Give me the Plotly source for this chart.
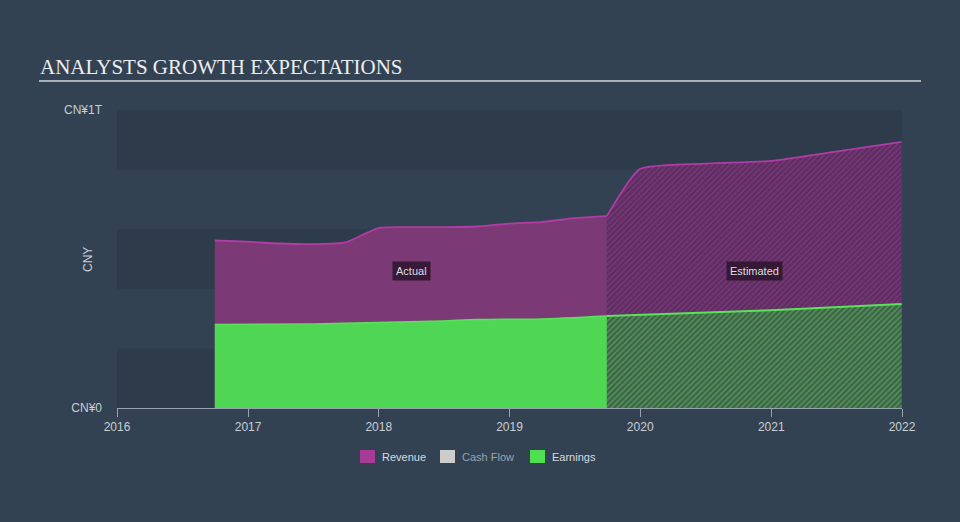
import plotly.graph_objects as go

# ---------------- data ----------------
rev_act_dates = ["2016-09-30", "2016-12-31", "2017-03-31", "2017-06-30", "2017-09-30",
                 "2017-12-31", "2018-03-31", "2018-06-30", "2018-09-30", "2018-12-31",
                 "2019-03-31", "2019-06-30", "2019-09-30"]
rev_act_vals = [0.562e12, 0.558e12, 0.552e12, 0.550e12, 0.556e12,
                0.604e12, 0.607e12, 0.607e12, 0.609e12, 0.619e12,
                0.624e12, 0.637e12, 0.644e12]

rev_est_dates = ["2019-09-30", "2019-12-31", "2020-06-30", "2020-12-31", "2021-06-30", "2021-12-31"]
rev_est_vals = [0.644e12, 0.802e12, 0.820e12, 0.829e12, 0.860e12, 0.893e12]

earn_act_dates = ["2016-09-30", "2017-06-30", "2017-12-31", "2018-06-30", "2018-09-30",
                  "2019-03-31", "2019-09-30"]
earn_act_vals = [0.280e12, 0.282e12, 0.287e12, 0.292e12, 0.297e12, 0.299e12, 0.309e12]

earn_est_dates = ["2019-09-30", "2020-12-31", "2021-12-31"]
earn_est_vals = [0.309e12, 0.328e12, 0.349e12]

x_tick_vals = ["2016-01-01", "2017-01-01", "2018-01-01", "2019-01-01",
               "2020-01-01", "2021-01-01", "2022-01-01"]
x_tick_text = ["2016", "2017", "2018", "2019", "2020", "2021", "2022"]
y_tick_vals = [0, 1e12]
y_tick_text = ["CN¥0", "CN¥1T"]

legend_names = ["Revenue", "Cash Flow", "Earnings"]
legend_colors = ["#a73c97", "#cccccc", "#4fe052"]
legend_text_colors = ["#d6dae0", "#9aa2ac", "#d6dae0"]

# ---------------- style ----------------
REV_LINE = "#b23ca5"
REV_FILL = "#7b3a76"
EARN_LINE = "#5be25a"
EARN_FILL = "#4fd655"
BG = "#334252"
BAND = "#2e3b4b"
FONT = "Liberation Sans"

fig = go.Figure()

fig.add_trace(go.Scatter(x=rev_act_dates, y=rev_act_vals, mode="lines",
                         line=dict(color=REV_LINE, width=1.8, shape="spline", smoothing=0.6),
                         fill="tozeroy", fillcolor=REV_FILL, showlegend=False, hoverinfo="skip"))
fig.add_trace(go.Scatter(x=rev_est_dates, y=rev_est_vals, mode="lines",
                         line=dict(color=REV_LINE, width=1.8, shape="spline", smoothing=0.5),
                         fill="tozeroy", fillcolor="rgba(0,0,0,0)",
                         fillpattern=dict(shape="/", bgcolor="#5a2e5e", fgcolor="#9a3d93",
                                          size=4, solidity=0.4),
                         showlegend=False, hoverinfo="skip"))
fig.add_trace(go.Scatter(x=earn_act_dates, y=earn_act_vals, mode="lines",
                         line=dict(color=EARN_LINE, width=1.5, shape="spline", smoothing=0.6),
                         fill="tozeroy", fillcolor=EARN_FILL, showlegend=False, hoverinfo="skip"))
fig.add_trace(go.Scatter(x=earn_est_dates, y=earn_est_vals, mode="lines",
                         line=dict(color=EARN_LINE, width=2),
                         fill="tozeroy", fillcolor="rgba(0,0,0,0)",
                         fillpattern=dict(shape="/", bgcolor="#42604c", fgcolor="#55cf57",
                                          size=4, solidity=0.4),
                         showlegend=False, hoverinfo="skip"))

# background bands
for i in range(5):
    if i % 2 == 0:
        fig.add_shape(type="rect", xref="paper", yref="y", x0=0, x1=1,
                      y0=i * 0.2e12, y1=(i + 1) * 0.2e12,
                      fillcolor=BAND, line_width=0, layer="below")

W, H = 960, 522
L, R, T, B = 117, 902, 110, 408


def px(x):
    return (x - L) / (R - L)


def py(y):
    return (B - y) / (B - T)


# title underline
fig.add_shape(type="line", xref="paper", yref="paper", x0=px(39), x1=px(921),
              y0=py(81), y1=py(81), line=dict(color="#a9b0b8", width=2))

annotations = [
    dict(text="ANALYSTS GROWTH EXPECTATIONS", xref="paper", yref="paper",
         x=px(38), y=py(67), xanchor="left", yanchor="middle", showarrow=False,
         font=dict(family="Liberation Serif", size=21, color="#eceef0")),
    dict(text="Actual", x="2018-04-01", y=0.46e12, showarrow=False,
         bgcolor="rgba(45,20,45,0.85)", borderpad=3,
         font=dict(family=FONT, size=11, color="#dddddd")),
    dict(text="Estimated", x="2020-11-15", y=0.46e12, showarrow=False,
         bgcolor="rgba(45,20,45,0.85)", borderpad=3,
         font=dict(family=FONT, size=11, color="#dddddd")),
    dict(text="CNY", xref="paper", yref="paper", x=px(88), y=py(260), textangle=-90,
         showarrow=False, xanchor="center", yanchor="middle",
         font=dict(family=FONT, size=12, color="#c9ced4")),
]

# manual legend
legend_x = [360, 440, 530]
for name, col, tcol, lx in zip(legend_names, legend_colors, legend_text_colors, legend_x):
    fig.add_shape(type="rect", xref="paper", yref="paper",
                  x0=px(lx), x1=px(lx + 15), y0=py(450), y1=py(463),
                  fillcolor=col, line_width=0)
    annotations.append(dict(text=name, xref="paper", yref="paper", x=px(lx + 20), y=py(457),
                            xanchor="left", yanchor="middle", showarrow=False,
                            font=dict(family=FONT, size=11, color=tcol)))

fig.update_layout(
    width=W, height=H,
    margin=dict(l=L, r=W - R, t=T, b=H - B),
    paper_bgcolor=BG, plot_bgcolor=BG,
    font=dict(family=FONT, color="#c9ced4", size=12),
    showlegend=False,
    annotations=annotations,
    xaxis=dict(type="date", range=["2016-01-01", "2022-01-01"],
               tickvals=x_tick_vals, ticktext=x_tick_text,
               showgrid=False, zeroline=False, showline=True, linecolor="#9aa4b0",
               linewidth=1, ticks="outside", ticklen=8, tickcolor="#9aa4b0",
               tickfont=dict(size=12, color="#c9ced4")),
    yaxis=dict(range=[0, 1e12], tickvals=y_tick_vals, ticktext=y_tick_text,
               showgrid=False, zeroline=False, showline=False, ticks="",
               ticklabelstandoff=14,
               tickfont=dict(size=12, color="#c9ced4")),
    hovermode=False,
)

fig.write_html("out.html", config={"displayModeBar": False, "staticPlot": True},
               post_script="document.body.style.margin='0';document.body.style.overflow='hidden';")
